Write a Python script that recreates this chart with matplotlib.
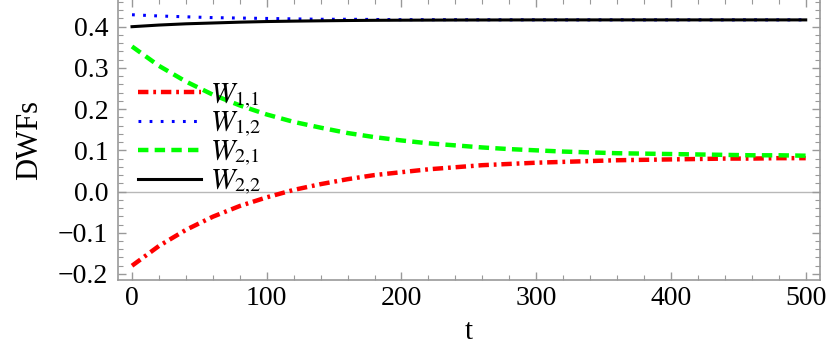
import matplotlib
matplotlib.use("Agg")
import matplotlib.pyplot as plt
from matplotlib.ticker import MultipleLocator

plt.rcParams['font.family'] = ['Liberation Serif', 'DejaVu Serif']
plt.rcParams['mathtext.fontset'] = 'stix'
plt.rcParams['lines.scale_dashes'] = False

t = [0, 20, 40, 60, 80, 100, 120, 140, 160, 180, 200, 220, 240, 260,
     280, 300, 320, 340, 360, 380, 400, 420, 440, 460, 480, 500]
w11 = [-0.180, -0.132, -0.093, -0.061, -0.035, -0.014, 0.004, 0.018, 0.030,
       0.040, 0.047, 0.054, 0.059, 0.064, 0.067, 0.070, 0.072, 0.074, 0.076,
       0.077, 0.078, 0.079, 0.080, 0.080, 0.081, 0.081]
w12 = [0.429, 0.426, 0.424, 0.422, 0.421, 0.420, 0.419, 0.418, 0.418,
       0.4175, 0.417, 0.417, 0.417, 0.4168, 0.4167, 0.4167, 0.4166, 0.4166,
       0.4166, 0.4166, 0.4166, 0.4166, 0.4166, 0.4166, 0.4166, 0.4166]
w21 = [0.352, 0.305, 0.267, 0.235, 0.209, 0.187, 0.169, 0.155, 0.142, 0.132,
       0.124, 0.117, 0.112, 0.107, 0.103, 0.100, 0.097, 0.095, 0.093, 0.092,
       0.091, 0.090, 0.089, 0.088, 0.088, 0.087]
w22 = [0.400, 0.404, 0.407, 0.409, 0.411, 0.4125, 0.4135, 0.4143, 0.4150,
       0.4155, 0.4158, 0.4160, 0.4162, 0.4163, 0.4164, 0.4165, 0.4165, 0.4165,
       0.4165, 0.4165, 0.4165, 0.4165, 0.4165, 0.4165, 0.4165, 0.4165]
labels = [r'$W_{1{,}1}$', r'$W_{1{,}2}$', r'$W_{2{,}1}$', r'$W_{2{,}2}$']

fig = plt.figure(figsize=(8.3, 3.54), dpi=100)
ax = fig.add_axes([118/830, 74/354, 702/830, 281/354])

ax.axhline(0, color='#b8b8b8', lw=1.0, zorder=1)
ax.plot(t, w11, color='#ff0000', lw=3.2, linestyle=(0, (7.5, 3.5, 2.0, 3.5)),
        dash_capstyle='butt', label=labels[0])
ax.plot(t, w12, color='#0000ff', lw=2.2, linestyle=(0, (2.0, 6.0)),
        dash_capstyle='butt', label=labels[1])
ax.plot(t, w21, color='#00ff00', lw=3.2, linestyle=(0, (7.5, 4.5)),
        dash_capstyle='butt', label=labels[2])
ax.plot(t, w22, color='#000000', lw=2.2, label=labels[3])

ax.set_xlim(-10.4, 510.6)
ax.set_ylim(-0.2146, 0.4672)
ax.xaxis.set_major_locator(MultipleLocator(100))
ax.xaxis.set_minor_locator(MultipleLocator(20))
ax.yaxis.set_major_locator(MultipleLocator(0.1))
ax.yaxis.set_minor_locator(MultipleLocator(0.02))
ax.yaxis.set_major_formatter(matplotlib.ticker.FuncFormatter(
    lambda v, p: ('\u2212' if v < -1e-9 else '') + f'{abs(v):.1f}'))

for s in ax.spines.values():
    s.set_color('#999999')
    s.set_linewidth(1.2)
ax.tick_params(which='both', direction='in', top=True, right=True,
               color='#999999', labelsize=20, labelcolor='black')
ax.tick_params(which='major', length=6, width=1.0)
ax.tick_params(axis='y', which='major', pad=7)
ax.tick_params(axis='x', which='major', pad=4)
ax.tick_params(which='minor', length=3.5, width=0.8)

ax.set_xlabel('t', fontsize=21, labelpad=6)
ax.set_ylabel('DWFs', fontsize=22, labelpad=10)

leg = ax.legend(loc='upper left', bbox_to_anchor=(0.0285, 0.708), frameon=False,
                fontsize=21, handlelength=2.15, handletextpad=0.33,
                labelspacing=-0.02, borderaxespad=0.0, borderpad=0.0)

fig.savefig('out.png', dpi=100)
